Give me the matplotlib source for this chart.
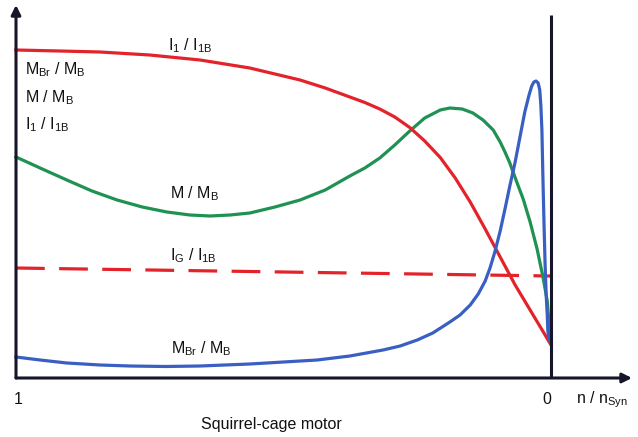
import matplotlib
matplotlib.use("Agg")
import matplotlib.pyplot as plt

plt.rcParams['font.family'] = ['Liberation Sans', 'DejaVu Sans']
plt.rcParams['mathtext.default'] = 'regular'

# slip s = 1 - n/nSyn (1 at left, 0 at right)
i1_s = [1.000, 0.918, 0.843, 0.750, 0.656, 0.563, 0.469, 0.422, 0.376, 0.348, 0.320,
        0.292, 0.264, 0.236, 0.207, 0.179, 0.151, 0.123, 0.095, 0.067, 0.039, 0.011, 0.000]
i1_y = [6.56, 6.54, 6.52, 6.46, 6.36, 6.20, 5.96, 5.80, 5.62, 5.51, 5.38,
        5.22, 5.01, 4.74, 4.41, 4.00, 3.52, 2.98, 2.42, 1.86, 1.36, 0.86, 0.66]

m_s = [1.000, 0.955, 0.905, 0.858, 0.811, 0.764, 0.718, 0.675, 0.637, 0.600, 0.563,
       0.516, 0.469, 0.422, 0.376, 0.348, 0.320, 0.292, 0.264, 0.236, 0.207, 0.189,
       0.166, 0.146, 0.127, 0.108, 0.095, 0.086, 0.077, 0.064, 0.052, 0.039, 0.026,
       0.015, 0.007, 0.002]
m_y = [4.42, 4.20, 3.96, 3.74, 3.56, 3.42, 3.32, 3.26, 3.24, 3.26, 3.30,
       3.42, 3.56, 3.76, 4.04, 4.20, 4.40, 4.66, 4.94, 5.20, 5.36, 5.40,
       5.38, 5.30, 5.16, 4.96, 4.72, 4.52, 4.30, 3.92, 3.58, 3.12, 2.58,
       2.02, 1.54, 0.86]

mbr_s = [1.000, 0.955, 0.905, 0.843, 0.787, 0.721, 0.656, 0.563, 0.437, 0.376, 0.314,
         0.282, 0.250, 0.221, 0.189, 0.170, 0.151, 0.136, 0.123, 0.114, 0.105, 0.095,
         0.086, 0.077, 0.067, 0.058, 0.049, 0.041, 0.036, 0.032, 0.028, 0.024, 0.021,
         0.019, 0.017, 0.015, 0.013, 0.011, 0.009, 0.007, 0.006, 0.004]
mbr_y = [0.42, 0.36, 0.30, 0.26, 0.24, 0.23, 0.24, 0.28, 0.36, 0.44, 0.56,
         0.64, 0.76, 0.90, 1.12, 1.26, 1.46, 1.68, 1.94, 2.20, 2.52, 2.94,
         3.38, 3.84, 4.32, 4.82, 5.32, 5.66, 5.84, 5.92, 5.94, 5.90, 5.76,
         5.46, 4.96, 3.96, 3.06, 2.26, 1.66, 1.26, 0.96, 0.76]

ig_s = [1.0, 0.0]
ig_y = [2.20, 2.04]

RED = '#e4222a'
GREEN = '#1f9152'
BLUE = '#3a5fc2'
AX = '#16162a'

W, H = 638, 437
fig = plt.figure(figsize=(W / 100, H / 100), dpi=100)
ax = fig.add_axes([0, 0, 1, 1])
ax.set_xlim(551 / 535, (551 - 638) / 535)
ax.set_ylim(-59 / 50, 378 / 50)
ax.axis('off')

lw = 2.3
ax.plot(ig_s, ig_y, color=RED, lw=lw, dashes=(9, 4.5), solid_capstyle='butt', zorder=3)
ax.plot(m_s, m_y, color=GREEN, lw=lw, solid_joinstyle='round', zorder=3)
ax.plot(i1_s, i1_y, color=RED, lw=lw, solid_joinstyle='round', zorder=4)
ax.plot(mbr_s, mbr_y, color=BLUE, lw=lw, solid_joinstyle='round', zorder=5)

# axes lines
ax.annotate('', xy=(1.0, 373 / 50), xytext=(1.0, 0),
            arrowprops=dict(arrowstyle='-|>', lw=2.2, color=AX, mutation_scale=14,
                            shrinkA=0, shrinkB=0), zorder=6)
ax.annotate('', xy=((551 - 632) / 535, 0), xytext=(1.0, 0),
            arrowprops=dict(arrowstyle='-|>', lw=2.2, color=AX, mutation_scale=14,
                            shrinkA=0, shrinkB=0), zorder=6)
ax.plot([0, 0], [0, 363 / 50], color=AX, lw=2.2, solid_capstyle='butt', zorder=6)


def px(x, y, s, **kw):
    fig.text(x / W, 1 - y / H, s, fontsize=11.5, color='#111111', **kw)


px(168, 46, 'I$_1$ / I$_{1B}$', va='center')
px(25, 70, 'M$_{Br}$ / M$_B$', va='center')
px(25, 98, 'M / M$_B$', va='center')
px(25, 125, 'I$_1$ / I$_{1B}$', va='center')
px(170, 194, 'M / M$_B$', va='center')
px(170, 256, 'I$_G$ / I$_{1B}$', va='center')
px(171, 349, 'M$_{Br}$ / M$_B$', va='center')
px(18, 400, '1', va='center', ha='center')
px(547, 400, '0', va='center', ha='center')
px(576, 400, 'n / n$_{Syn}$', va='center')
px(271, 425, 'Squirrel-cage motor', va='center', ha='center')

fig.savefig('out.png', dpi=100)
